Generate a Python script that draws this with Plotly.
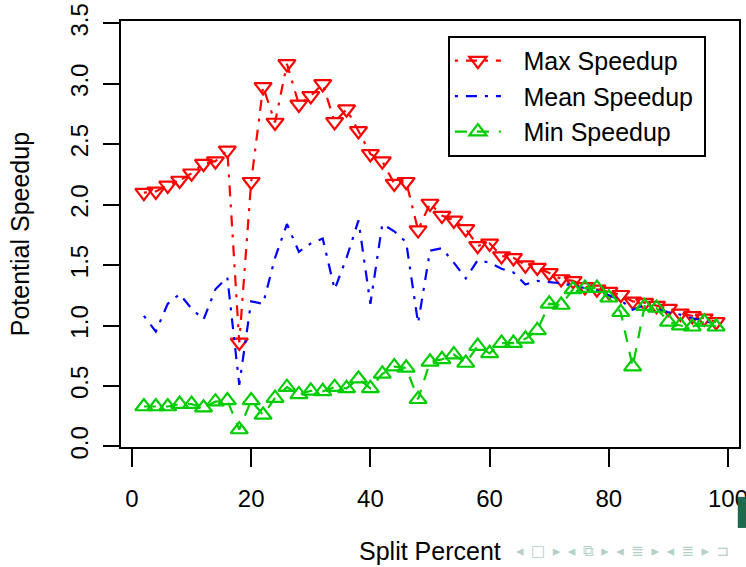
import plotly.graph_objects as go

split_percent = [2, 4, 6, 8, 10, 12, 14, 16, 18, 20, 22, 24, 26, 28, 30, 32, 34, 36, 38, 40,
                 42, 44, 46, 48, 50, 52, 54, 56, 58, 60, 62, 64, 66, 68, 70, 72, 74, 76, 78, 80,
                 82, 84, 86, 88, 90, 92, 94, 96, 98]

max_speedup = [2.10, 2.11, 2.16, 2.20, 2.26, 2.34, 2.36, 2.45, 0.86, 2.19,
               2.975, 2.68, 3.165, 2.83, 2.90, 3.00, 2.685, 2.79, 2.61, 2.42,
               2.36, 2.175, 2.19, 1.79, 2.01, 1.91, 1.87, 1.80, 1.66, 1.68,
               1.575, 1.56, 1.50, 1.48, 1.435, 1.385, 1.37, 1.32, 1.30, 1.28,
               1.255, 1.20, 1.19, 1.165, 1.14, 1.10, 1.08, 1.06, 1.03]

mean_speedup = [1.08, 0.95, 1.18, 1.26, 1.14, 1.05, 1.30, 1.40, 0.51, 1.20,
                1.18, 1.56, 1.84, 1.61, 1.68, 1.72, 1.30, 1.56, 1.87, 1.18,
                1.84, 1.78, 1.69, 1.02, 1.62, 1.64, 1.52, 1.39, 1.54, 1.52,
                1.47, 1.44, 1.34, 1.37, 1.36, 1.35, 1.33, 1.31, 1.29, 1.25,
                1.21, 1.13, 1.17, 1.14, 1.11, 1.09, 1.06, 1.04, 1.01]

min_speedup = [0.33, 0.33, 0.33, 0.35, 0.35, 0.32, 0.37, 0.38, 0.14, 0.38,
               0.26, 0.40, 0.49, 0.43, 0.46, 0.455, 0.49, 0.48, 0.56, 0.48,
               0.60, 0.66, 0.65, 0.39, 0.70, 0.72, 0.76, 0.69, 0.83, 0.77,
               0.855, 0.855, 0.89, 0.96, 1.18, 1.17, 1.30, 1.31, 1.31, 1.23,
               1.11, 0.66, 1.16, 1.145, 1.03, 1.00, 0.99, 1.03, 0.99]

series_names = ["Max Speedup", "Mean Speedup", "Min Speedup"]
x_ticks = [0, 20, 40, 60, 80, 100]
y_ticks = [0.0, 0.5, 1.0, 1.5, 2.0, 2.5, 3.0, 3.5]
y_tick_labels = ["0.0", "0.5", "1.0", "1.5", "2.0", "2.5", "3.0", "3.5"]

FONT = "Liberation Sans, Arial, Helvetica, sans-serif"
DOTDASH = "3px,8px,11px,8px"
DASHED = "12px,10px"
PAD_L = "\u2002\u2009"
PAD_R = "\u2009"

fig = go.Figure()
fig.add_trace(go.Scatter(
    x=split_percent, y=max_speedup, name=PAD_L + series_names[0] + PAD_R,
    mode="lines+markers",
    line=dict(color="#ff0000", width=2.2, dash=DOTDASH),
    marker=dict(symbol="triangle-down-open", size=15, color="#ff0000",
                line=dict(width=2.2, color="#ff0000")),
))
fig.add_trace(go.Scatter(
    x=split_percent, y=mean_speedup, name=PAD_L + series_names[1] + PAD_R,
    mode="lines",
    line=dict(color="#0000ff", width=2.2, dash=DOTDASH),
))
fig.add_trace(go.Scatter(
    x=split_percent, y=min_speedup, name=PAD_L + series_names[2] + PAD_R,
    mode="lines+markers",
    line=dict(color="#00cd00", width=2.2, dash=DASHED),
    marker=dict(symbol="triangle-up-open", size=15, color="#00cd00",
                line=dict(width=2.2, color="#00cd00")),
))

axis_common = dict(
    showgrid=False, zeroline=False, showline=True, mirror=True,
    linecolor="black", linewidth=2, ticks="outside", tickcolor="black",
    tickwidth=2, tickfont=dict(family=FONT, size=24, color="black"),
    automargin=False, ticklabeloverflow="allow",
)

fig.update_layout(
    width=746, height=567,
    margin=dict(l=121, r=7, t=21, b=120),
    paper_bgcolor="white", plot_bgcolor="white",
    font=dict(family=FONT, color="black"),
    xaxis=dict(range=[-1.84, 101.84], tickvals=x_ticks, ticklen=18,
               ticklabelstandoff=11, **axis_common),
    yaxis=dict(range=[-0.005, 3.52], tickvals=y_ticks, ticktext=y_tick_labels,
               tickangle=-90, ticklen=16, ticklabelstandoff=5, **axis_common),
    legend=dict(x=0.529, y=0.965, xanchor="left", yanchor="top",
                bgcolor="white", bordercolor="black", borderwidth=2,
                font=dict(family=FONT, size=25, color="black"),
                itemwidth=46, tracegroupgap=0),
    showlegend=True,
    annotations=[
        dict(text="Split Percent", xref="paper", yref="paper", x=0.5, y=-0.244,
             xanchor="center", yanchor="middle", showarrow=False,
             font=dict(family=FONT, size=25, color="black")),
        dict(text="Potential Speedup", xref="paper", yref="paper", x=-0.163, y=0.5,
             xanchor="center", yanchor="middle", textangle=-90, showarrow=False,
             font=dict(family=FONT, size=25, color="black")),
        dict(text="◂\u2002□\u2002▸\u2002◂\u2002⧉\u2002▸\u2002◂\u2002≣\u2002▸\u2002◂\u2002≣\u2002▸\u2002⊐",
             xref="paper", yref="paper",
             x=0.636, y=-0.244, xanchor="left", yanchor="middle", showarrow=False,
             font=dict(family="DejaVu Sans", size=15, color="#b5d0c4")),
    ],
    shapes=[
        dict(type="rect", xref="paper", yref="paper", x0=0.998, x1=1.02,
             y0=-0.117, y1=-0.190, fillcolor="#1d6b4c", line=dict(width=0)),
    ],
)

fig.write_html("out.html", config={"displayModeBar": False},
               post_script="document.body.style.margin='0';document.body.style.overflow='hidden';")
